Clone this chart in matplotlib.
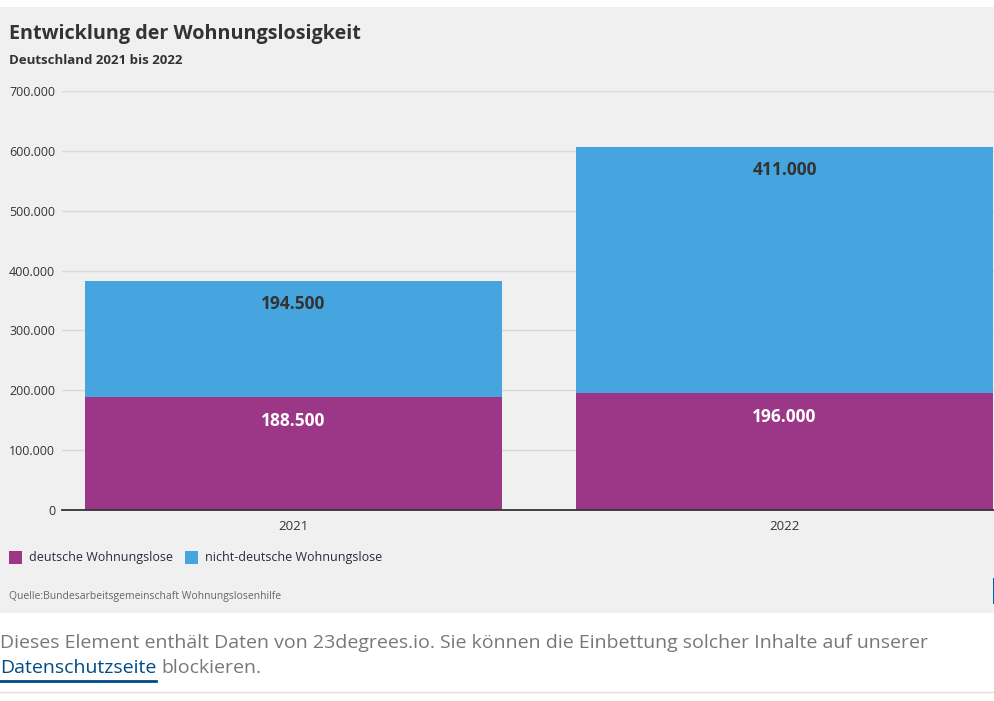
import matplotlib.pyplot as plt
from matplotlib.patches import Rectangle
from matplotlib.ticker import FuncFormatter

years = ['2021', '2022']
deutsche = [188500, 196000]
nicht_deutsche = [194500, 411000]
yticks = [0, 100000, 200000, 300000, 400000, 500000, 600000, 700000]

purple = '#9C3787'
blue = '#46A5DF'
bg = '#F0F0F0'
dark = '#333333'

plt.rcParams['font.family'] = ['Open Sans', 'DejaVu Sans']

W, H = 995, 701
fig = plt.figure(figsize=(W / 100, H / 100), dpi=100)
fig.patch.set_facecolor('white')


def px(x, y):
    return x / W, 1 - y / H


# grey panel behind the chart
fig.patches.append(Rectangle(px(0, 613), 1, (613 - 7) / H, transform=fig.transFigure,
                             facecolor=bg, edgecolor='none', zorder=-1))

ax = fig.add_axes([62 / W, 1 - 510 / H, 1 - 62 / W, (510 - 91) / H])
ax.set_facecolor(bg)

x = [0, 1]
width = 0.849
ax.bar(x, deutsche, width=width, color=purple, zorder=3)
ax.bar(x, nicht_deutsche, width=width, bottom=deutsche, color=blue, zorder=3)

fmt = lambda v: f'{v:,.0f}'.replace(',', '.')
for i in x:
    ax.annotate(fmt(deutsche[i]), xy=(i, deutsche[i]), xytext=(0, -17.5), textcoords='offset points',
                ha='center', va='center', color='white', fontsize=12.5, fontweight='bold', zorder=4)
    top = deutsche[i] + nicht_deutsche[i]
    ax.annotate(fmt(nicht_deutsche[i]), xy=(i, top), xytext=(0, -16.5), textcoords='offset points',
                ha='center', va='center', color=dark, fontsize=12.5, fontweight='bold', zorder=4)

ax.set_xlim(-0.4715, 1.4287)
ax.set_ylim(0, 700000)
ax.set_yticks(yticks)
ax.yaxis.set_major_formatter(FuncFormatter(lambda v, p: fmt(v)))
ax.set_xticks(x)
ax.set_xticklabels(years)
ax.tick_params(axis='y', length=0, pad=5, labelsize=9, labelcolor=dark)
ax.tick_params(axis='x', length=0, pad=7, labelsize=9.5, labelcolor=dark)
ax.grid(axis='y', color='#D8D8D8', linewidth=1, zorder=1)
for s in ['top', 'right', 'left']:
    ax.spines[s].set_visible(False)
ax.spines['bottom'].set_color(dark)
ax.spines['bottom'].set_linewidth(1.3)
ax.spines['bottom'].set_zorder(5)

# titles
fig.text(*px(9, 34), 'Entwicklung der Wohnungslosigkeit', fontsize=14.2, fontweight='bold',
         color=dark, va='center')
fig.text(*px(9, 60), 'Deutschland 2021 bis 2022', fontsize=9.5, fontweight='bold',
         color=dark, va='center')

# legend
for sx, tx, col, lab in [(9, 29, purple, 'deutsche Wohnungslose'),
                         (185, 205, blue, 'nicht-deutsche Wohnungslose')]:
    fig.patches.append(Rectangle(px(sx, 564), 13 / W, 13 / H, transform=fig.transFigure,
                                 facecolor=col, edgecolor='none'))
    fig.text(*px(tx, 557), lab, fontsize=9, color='#2a2a40', va='center')

fig.text(*px(9, 597), 'Quelle:Bundesarbeitsgemeinschaft Wohnungslosenhilfe', fontsize=7.5,
         color='#666666', va='center')
fig.patches.append(Rectangle(px(993, 604), 2 / W, 26 / H, transform=fig.transFigure,
                             facecolor='#0B5CA8', edgecolor='none'))

# note below the chart
fig.text(*px(0, 643), 'Dieses Element enthält Daten von 23degrees.io. Sie können die Einbettung '
         'solcher Inhalte auf unserer', fontsize=14, color='#777777', va='center')
link = fig.text(*px(0, 668), 'Datenschutzseite', fontsize=14, color='#004B87', va='center')
fig.canvas.draw()
bb = link.get_window_extent()
fig.text(bb.x1 / W + 5 / W, 1 - 668 / H, 'blockieren.', fontsize=14, color='#777777', va='center')
fig.add_artist(plt.Line2D([bb.x0 / W, bb.x1 / W], [1 - 681 / H] * 2, color='#004B87',
                          linewidth=2, transform=fig.transFigure))
fig.add_artist(plt.Line2D([0, 1], [1 - 692 / H] * 2, color='#E0E0E0', linewidth=1,
                          transform=fig.transFigure))

fig.savefig('out.png', dpi=100, facecolor='white')
